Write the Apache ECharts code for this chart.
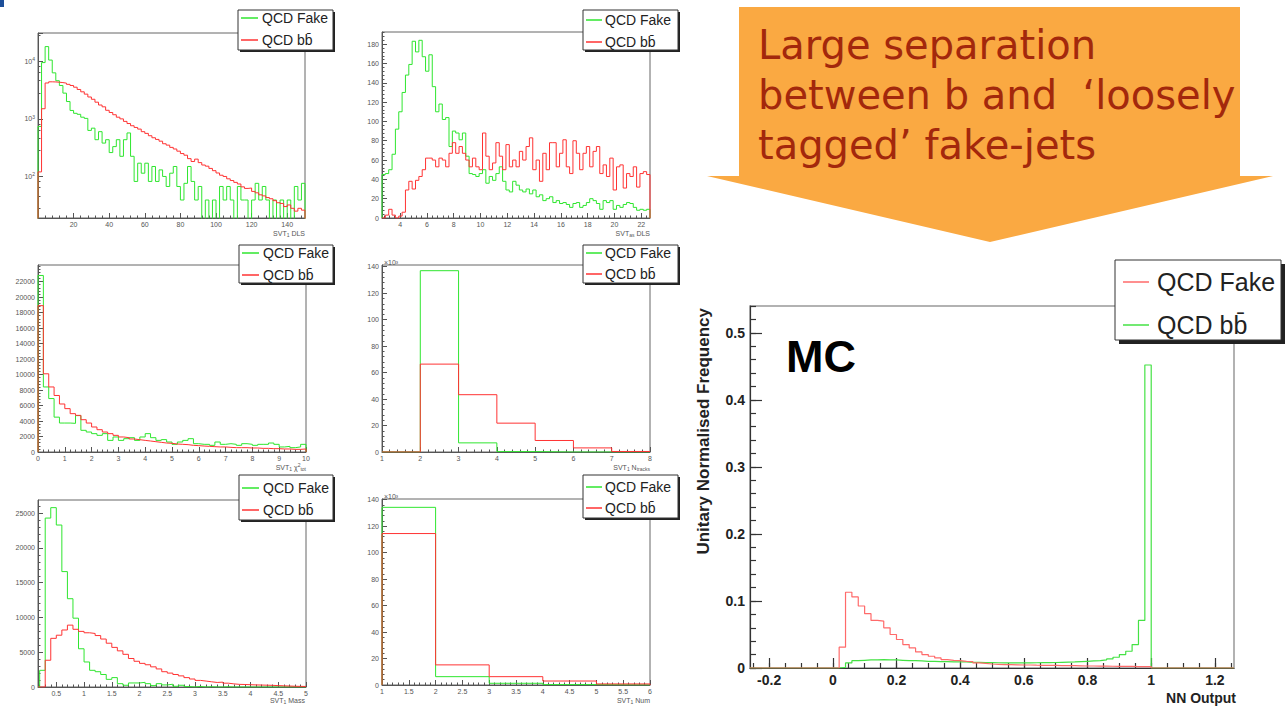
<!DOCTYPE html>
<html>
<head>
<meta charset="utf-8">
<script src="https://cdn.jsdelivr.net/npm/echarts@6/dist/echarts.min.js"></script>
<style>
  html, body { margin: 0; padding: 0; background: #fff; }
  #chart { width: 1285px; height: 707px; }
</style>
</head>
<body>
<div id="chart"></div>
<script>
// ---------- histogram contents ----------
// SVT1 decay-length significance, 2-unit bins from 0 to 150 (log scale)
const P1_BIN = { lo: 0, w: 2 };
const P1_FAKE = [740, 9500, 18000, 10500, 6300, 4600, 3800, 2800, 2000, 1400,
  1250, 1200, 1070, 1020, 630, 690, 435, 600, 380, 435,
  260, 330, 435, 224, 435, 570, 224, 82, 170, 114,
  170, 82, 149, 82, 130, 100, 67, 114, 149, 67,
  39, 76, 149, 82, 39, 67, 0, 39, 0, 39,
  0, 67, 39, 67, 39, 0, 67, 39, 39, 0,
  39, 76, 39, 67, 39, 0, 39, 0, 39, 0,
  39, 0, 67, 39, 76];
const P1_BB = [120, 1500, 4200, 4400, 4380, 4330, 4270, 4170, 3980, 3800,
  3550, 3240, 2950, 2690, 2400, 2190, 1950, 1740, 1620, 1410,
  1290, 1180, 1070, 1000, 905, 830, 760, 710, 665, 600,
  560, 510, 470, 440, 410, 370, 350, 320, 300, 275,
  250, 234, 204, 182, 200, 174, 158, 151, 138, 126,
  115, 105, 100, 91, 85, 79, 74, 66, 62, 63,
  55, 52, 48, 46, 43, 41, 38, 35, 34, 30,
  32, 28, 25, 28, 26];

// second SVT decay-length significance, 0.25 bins from 2.65
const P2_BIN = { lo: 2.65, w: 0.25 };
const P2_FAKE = [45, 46, 50, 66, 92, 110, 130, 148, 159, 183,
  172, 184, 167, 152, 169, 136, 110, 118, 102, 104,
  74, 90, 88, 81, 88, 64, 46, 45, 43, 46,
  50, 36, 43, 39, 46, 53, 38, 29, 27, 38,
  34, 29, 27, 30, 25, 29, 22, 24, 18, 20,
  22, 16, 18, 15, 16, 14, 11, 15, 16, 11,
  13, 16, 20, 18, 15, 9, 18, 16, 18, 9,
  13, 11, 14, 16, 15, 11, 8, 9, 8, 9];
const P2_BB = [0, 3, 9, 3, 0, 2, 6, 29, 38, 30,
  39, 43, 50, 62, 62, 60, 53, 62, 60, 53,
  67, 78, 67, 74, 67, 60, 53, 62, 53, 50,
  88, 64, 50, 57, 78, 64, 50, 76, 53, 60,
  53, 69, 60, 74, 83, 50, 60, 38, 67, 50,
  78, 78, 53, 67, 81, 53, 46, 80, 67, 50,
  67, 74, 53, 69, 74, 46, 55, 43, 62, 29,
  53, 55, 31, 46, 43, 53, 32, 46, 48, 45];

// SVT1 vertex chi2, 0.2 bins from 0 to 10
const P3_BIN = { lo: 0, w: 0.2 };
const P3_FAKE = [22800, 8400, 6900, 4500, 3740, 3740, 3700, 4700, 2800, 2580,
  2370, 2150, 2370, 1500, 1940, 1500, 1720, 1850, 1500, 1940,
  2370, 1850, 1500, 1600, 1290, 990, 1290, 1500, 1720, 1075,
  990, 990, 860, 1290, 990, 1075, 990, 860, 1075, 990,
  860, 990, 990, 1160, 990, 650, 730, 560, 650, 990];
const P3_BB = [18900, 10100, 8400, 7300, 6200, 5600, 4950, 4730, 4170, 3740,
  3230, 2880, 2580, 2370, 2150, 1940, 1850, 1680, 1590, 1500,
  1420, 1330, 1250, 1160, 1120, 1030, 990, 950, 860, 820,
  770, 730, 690, 650, 650, 600, 560, 560, 560, 520,
  520, 470, 470, 430, 430, 390, 390, 340, 340, 390];

// SVT1 track multiplicity, unit bins from 1 to 8 (x10^3 entries)
const P4_BIN = { lo: 1, w: 1 };
const P4_FAKE = [0, 137, 6.9, 0.3, 0, 0, 0];
const P4_BB = [0, 66.4, 43.3, 21.8, 8.7, 3.1, 0.4];

// SVT1 mass, 0.1 bins from 0.2 to 5
const P5_BIN = { lo: 0.2, w: 0.1 };
const P5_FAKE = [2400, 24300, 25800, 23300, 16600, 12700, 9900, 5500, 3600, 2400,
  2200, 1800, 1100, 1350, 480, 250, 580, 580, 670, 480,
  200, 480, 300, 400, 100, 250, 60, 0, 80, 0,
  40, 0, 0, 30, 0, 0, 0, 0, 0, 0,
  0, 0, 0, 0, 0, 0, 0, 0];
const P5_BB = [0, 3850, 7000, 7450, 8200, 8900, 8300, 8000, 7800, 7700,
  7400, 6900, 6300, 5700, 5200, 4700, 4100, 3700, 3400, 3200,
  2900, 2600, 2200, 2000, 1800, 1600, 1350, 1150, 950, 850,
  750, 650, 700, 550, 450, 380, 360, 330, 300, 280,
  260, 240, 200, 170, 140, 110, 90, 80];

// SVT1 number of vertices, unit bins from 1 to 6 (x10^3 entries)
const P6_BIN = { lo: 1, w: 1 };
const P6_FAKE = [134.2, 6.3, 1.3, 0.3, 0];
const P6_BB = [114.4, 15.2, 6.3, 3.0, 0.8];

// Neural-network output, unit-normalised, 0.02 bins from 0 to 1
const NN_BIN = { lo: 0, w: 0.02 };
const NN_FAKE = [0, 0.031, 0.113, 0.106, 0.0925, 0.081, 0.071, 0.070, 0.060, 0.050,
  0.0425, 0.035, 0.030, 0.024, 0.020, 0.0175, 0.015, 0.0125, 0.0115, 0.011,
  0.010, 0.0095, 0.0075, 0.007, 0.006, 0.0055, 0.005, 0.005, 0.0048, 0.0045,
  0.0045, 0.0042, 0.004, 0.004, 0.0038, 0.0036, 0.0035, 0.0034, 0.0032, 0.003,
  0.003, 0.0028, 0.0027, 0.0026, 0.0025, 0.0024, 0.0023, 0.0022, 0.0021, 0.002];
const NN_BB = [0, 0.001, 0.0075, 0.011, 0.0115, 0.012, 0.012, 0.0125, 0.012, 0.012,
  0.0115, 0.011, 0.011, 0.0105, 0.010, 0.010, 0.0095, 0.0095, 0.009, 0.009,
  0.009, 0.0085, 0.0085, 0.008, 0.008, 0.0078, 0.0075, 0.0075, 0.0075, 0.0075,
  0.0075, 0.0078, 0.008, 0.008, 0.0082, 0.0085, 0.0088, 0.009, 0.0095, 0.010,
  0.0105, 0.011, 0.012, 0.0135, 0.016, 0.020, 0.025, 0.035, 0.071, 0.452];

// ---------- axis ranges and tick labels ----------
const P1_X_RANGE = [0, 150], P1_Y_RANGE = [19, 31000];
const P1_X_TICKS = [20, 40, 60, 80, 100, 120, 140];
const P2_X_RANGE = [2.65, 22.65], P2_Y_RANGE = [0, 192.6];
const P2_X_TICKS = [4, 6, 8, 10, 12, 14, 16, 18, 20, 22];
const P2_Y_TICKS = [0, 20, 40, 60, 80, 100, 120, 140, 160, 180];
const P3_X_RANGE = [0, 10], P3_Y_RANGE = [0, 24150];
const P3_X_TICKS = [0, 1, 2, 3, 4, 5, 6, 7, 8, 9, 10];
const P3_Y_TICKS = [0, 2000, 4000, 6000, 8000, 10000, 12000, 14000, 16000, 18000, 20000, 22000];
const P4_X_RANGE = [1, 8], P4_Y_RANGE = [0, 141.3];
const P4_X_TICKS = [1, 2, 3, 4, 5, 6, 7, 8];
const P4_Y_TICKS = [0, 20, 40, 60, 80, 100, 120, 140];
const P5_X_RANGE = [0.17, 5], P5_Y_RANGE = [0, 26900];
const P5_X_TICKS = [0.5, 1, 1.5, 2, 2.5, 3, 3.5, 4, 4.5, 5];
const P5_Y_TICKS = [0, 5000, 10000, 15000, 20000, 25000];
const P6_X_RANGE = [1, 6], P6_Y_RANGE = [0, 140.5];
const P6_X_TICKS = [1, 1.5, 2, 2.5, 3, 3.5, 4, 4.5, 5, 5.5, 6];
const P6_Y_TICKS = [0, 20, 40, 60, 80, 100, 120, 140];
const NN_X_RANGE = [-0.26, 1.26], NN_Y_RANGE = [0, 0.54];
const NN_X_TICKS = [-0.2, 0, 0.2, 0.4, 0.6, 0.8, 1, 1.2];
const NN_Y_TICKS = [0, 0.1, 0.2, 0.3, 0.4, 0.5];

// ---------- text ----------
const LEGEND_FAKE = 'QCD Fake';
const LEGEND_BB = 'QCD b\u0062\u0304';
const AXIS_TITLES = ['SVT{sub|1} DLS', 'SVT{sub|as} DLS', 'SVT{sub|1} \u03c7{sup|2}{sub|tot}',
  'SVT{sub|1} N{sub|tracks}', 'SVT{sub|1} Mass', 'SVT{sub|1} Num'];
const NN_X_TITLE = 'NN Output';
const NN_Y_TITLE = 'Unitary Normalised Frequency';
const NN_TAG = 'MC';
const CALLOUT = ['Large separation', 'between b and  \u2018loosely', 'tagged\u2019 fake-jets'];

// ---------- helpers ----------
const FONT = "'Liberation Sans', Arial, Helvetica, sans-serif";
const GREEN = '#2fe62f';
const RED = '#ff3333';

const fmt = v => String(Math.round(v * 1e6) / 1e6);

function rangeStep(a, b, s) {
  const out = [];
  const n = Math.round((b - a) / s);
  for (let k = 0; k <= n; k++) out.push(Math.round((a + k * s) * 1e6) / 1e6);
  return out;
}

// outline of a filled-bin histogram, drawn along zero outside its bins
function histPoints(bin, vals, range, floor) {
  const pts = [[range[0], floor], [bin.lo, floor]];
  vals.forEach((v, i) => {
    const y = v > 0 ? v : floor;
    pts.push([bin.lo + i * bin.w, y], [bin.lo + (i + 1) * bin.w, y]);
  });
  pts.push([bin.lo + vals.length * bin.w, floor], [range[1], floor]);
  return pts;
}

function powerLabel(v) {
  const e = Math.log10(v);
  if (Math.abs(e - Math.round(e)) > 1e-6) return '';
  return '10{s|' + Math.round(e) + '}';
}

const SMALL = { fs: 7, fw: 'normal', label: '#555', axis: '#555', axisWidth: 1, frame: '#666', frameWidth: 1,
  margin: 3, xMajor: 5, xMinor: 2.5, yMajor: 5, yMinor: 2.5, lineWidth: 1 };
const BIG = { fs: 14, fw: 'bold', label: '#222', axis: '#333', axisWidth: 1.2, frame: '#999', frameWidth: 1.5,
  margin: 5, xMajor: 10, xMinor: 5, yMajor: 12, yMinor: 6, lineWidth: 1.2 };

const grids = [], xAxes = [], yAxes = [], series = [], graphics = [];

function valueAxes(dim, gi, range, major, minor, st) {
  const ls = { color: st.axis, width: st.axisWidth };
  const pos = dim === 'x' ? 'bottom' : 'left';
  return [{
    type: 'value', gridIndex: gi, position: pos, min: range[0], max: range[1],
    axisLine: { show: true, onZero: false, lineStyle: ls },
    axisTick: { show: true, inside: true, length: dim === 'x' ? st.xMajor : st.yMajor, customValues: major, lineStyle: ls },
    axisLabel: { show: true, customValues: major, margin: st.margin, fontSize: st.fs, fontFamily: FONT,
      fontWeight: st.fw, color: st.label, formatter: fmt },
    splitLine: { show: false }
  }, {
    // minor ticks share the frame edge with the labelled axis
    type: 'value', gridIndex: gi, position: pos, min: range[0], max: range[1],
    axisLine: { show: false, onZero: false }, axisLabel: { show: false }, splitLine: { show: false },
    axisTick: { show: true, inside: true, length: dim === 'x' ? st.xMinor : st.yMinor, customValues: minor, lineStyle: ls }
  }];
}

function addPanel(cfg) {
  const gi = grids.length;
  const st = cfg.style;
  grids.push({ left: cfg.rect[0], top: cfg.rect[1], width: cfg.rect[2], height: cfg.rect[3],
    show: true, borderColor: st.frame, borderWidth: st.frameWidth, backgroundColor: 'rgba(0,0,0,0)',
    containLabel: false, outerBoundsMode: 'none' });
  xAxes.push(...valueAxes('x', gi, cfg.xRange, cfg.xTicks, cfg.xMinor, st));
  if (cfg.log) {
    const ls = { color: st.axis, width: st.axisWidth };
    yAxes.push({
      type: 'log', logBase: 10, gridIndex: gi, position: 'left', min: cfg.yRange[0], max: cfg.yRange[1],
      axisLine: { show: true, onZero: false, lineStyle: ls },
      axisTick: { show: true, inside: true, length: st.yMajor, lineStyle: ls },
      minorTick: { show: true, splitNumber: 5, length: st.yMinor, lineStyle: ls },
      axisLabel: { show: true, margin: st.margin, fontSize: st.fs, fontFamily: FONT, color: st.label,
        lineHeight: 9, formatter: powerLabel,
        rich: { s: { fontSize: 5, fontFamily: FONT, color: st.label, verticalAlign: 'top', lineHeight: 9 } } },
      splitLine: { show: false }, minorSplitLine: { show: false }
    });
    yAxes.push({ type: 'value', gridIndex: gi, position: 'left', show: false, min: 0, max: 1,
      axisLine: { show: false, onZero: false } });
  } else {
    yAxes.push(...valueAxes('y', gi, cfg.yRange, cfg.yTicks, cfg.yMinor, st));
  }
  const floor = cfg.log ? 1 : 0;
  cfg.hists.forEach(h => series.push({
    type: 'line', name: h.name, xAxisIndex: 2 * gi, yAxisIndex: 2 * gi,
    data: histPoints(cfg.bin, h.data, cfg.xRange, floor),
    symbol: 'none', showSymbol: false, clip: true, silent: true, animation: false, z: 3,
    lineStyle: { color: h.color, width: st.lineWidth }, itemStyle: { color: h.color }
  }));
}

function addLegend(box, shadow, lineX, textX, rowY, fs, entries) {
  const [x, y, w, h] = box;
  graphics.push({ type: 'rect', z: 50, shape: { x: x + shadow, y: y + shadow, width: w, height: h }, style: { fill: '#222' } });
  graphics.push({ type: 'rect', z: 51, shape: { x, y, width: w, height: h }, style: { fill: '#fff', stroke: '#333', lineWidth: 1 } });
  entries.forEach((e, i) => {
    graphics.push({ type: 'line', z: 52, shape: { x1: lineX[0], y1: rowY[i], x2: lineX[1], y2: rowY[i] },
      style: { stroke: e.color, lineWidth: 1.5 } });
    graphics.push({ type: 'text', z: 52, x: textX, y: rowY[i],
      style: { text: e.label, fill: '#222', fontSize: fs, fontFamily: FONT, align: 'left', verticalAlign: 'middle' } });
  });
}

function addTitle(text, x, y) {
  graphics.push({ type: 'text', z: 20, x, y, style: {
    text, fill: '#555', fontSize: 7, fontFamily: FONT, align: 'right', verticalAlign: 'middle', lineHeight: 9,
    rich: { sub: { fontSize: 5, fontFamily: FONT, fill: '#555', verticalAlign: 'bottom', lineHeight: 9 },
            sup: { fontSize: 5, fontFamily: FONT, fill: '#555', verticalAlign: 'top', lineHeight: 9 } } } });
}

const smallPair = (fake, bb) => [
  { name: LEGEND_FAKE, data: fake, color: GREEN },
  { name: LEGEND_BB, data: bb, color: RED }
];

// ---------- six input-variable panels ----------
addPanel({ rect: [38, 33, 267, 185], style: SMALL, log: true, bin: P1_BIN,
  xRange: P1_X_RANGE, xTicks: P1_X_TICKS, xMinor: rangeStep(0, 148, 4), yRange: P1_Y_RANGE,
  hists: smallPair(P1_FAKE, P1_BB) });
addPanel({ rect: [382, 32, 268, 186], style: SMALL, bin: P2_BIN,
  xRange: P2_X_RANGE, xTicks: P2_X_TICKS, xMinor: rangeStep(2.8, 22.4, 0.4),
  yRange: P2_Y_RANGE, yTicks: P2_Y_TICKS, yMinor: rangeStep(0, 192, 4),
  hists: smallPair(P2_FAKE, P2_BB) });
addPanel({ rect: [38, 265, 268, 187], style: SMALL, bin: P3_BIN,
  xRange: P3_X_RANGE, xTicks: P3_X_TICKS, xMinor: rangeStep(0, 10, 0.2),
  yRange: P3_Y_RANGE, yTicks: P3_Y_TICKS, yMinor: rangeStep(0, 24000, 400),
  hists: smallPair(P3_FAKE, P3_BB) });
addPanel({ rect: [382, 265, 268, 187], style: SMALL, bin: P4_BIN,
  xRange: P4_X_RANGE, xTicks: P4_X_TICKS, xMinor: rangeStep(1, 8, 0.2),
  yRange: P4_Y_RANGE, yTicks: P4_Y_TICKS, yMinor: rangeStep(0, 140, 4),
  hists: smallPair(P4_FAKE, P4_BB) });
addPanel({ rect: [38, 500, 268, 187], style: SMALL, bin: P5_BIN,
  xRange: P5_X_RANGE, xTicks: P5_X_TICKS, xMinor: rangeStep(0.2, 5, 0.1),
  yRange: P5_Y_RANGE, yTicks: P5_Y_TICKS, yMinor: rangeStep(0, 26000, 1000),
  hists: smallPair(P5_FAKE, P5_BB) });
addPanel({ rect: [382, 499, 268, 186], style: SMALL, bin: P6_BIN,
  xRange: P6_X_RANGE, xTicks: P6_X_TICKS, xMinor: rangeStep(1, 6, 0.1),
  yRange: P6_Y_RANGE, yTicks: P6_Y_TICKS, yMinor: rangeStep(0, 140, 4),
  hists: smallPair(P6_FAKE, P6_BB) });

// ---------- network output ----------
addPanel({ rect: [750, 306, 484, 362], style: BIG, bin: NN_BIN,
  xRange: NN_X_RANGE, xTicks: NN_X_TICKS, xMinor: rangeStep(-0.25, 1.25, 0.05),
  yRange: NN_Y_RANGE, yTicks: NN_Y_TICKS, yMinor: rangeStep(0, 0.54, 0.02),
  hists: [{ name: LEGEND_BB, data: NN_BB, color: '#44e244' }, { name: LEGEND_FAKE, data: NN_FAKE, color: '#ff6a6a' }] });

// legends
const smallEntries = [{ label: LEGEND_FAKE, color: GREEN }, { label: LEGEND_BB, color: RED }];
addLegend([238, 10, 95, 40], 2, [241, 258], 262, [18, 40], 14, smallEntries);
addLegend([583, 10, 95, 40], 2, [586, 602], 605, [20, 42], 14, smallEntries);
addLegend([239, 245, 94, 38], 2, [242, 259], 263, [253, 275], 14, smallEntries);
addLegend([583, 245, 95, 38], 2, [586, 602], 605, [253, 274], 14, smallEntries);
addLegend([239, 475, 94, 45], 2, [242, 259], 263, [488, 510], 14, smallEntries);
addLegend([583, 475, 95, 43], 2, [586, 602], 605, [487, 508], 14, smallEntries);
addLegend([1115, 260, 166, 80], 4, [1123, 1149], 1157, [282, 325], 25,
  [{ label: LEGEND_FAKE, color: '#ff6a6a' }, { label: LEGEND_BB, color: '#44e244' }]);

// axis titles of the small panels
addTitle(AXIS_TITLES[0], 305, 233);
addTitle(AXIS_TITLES[1], 650, 233);
addTitle(AXIS_TITLES[2], 306, 467);
addTitle(AXIS_TITLES[3], 650, 467);
addTitle(AXIS_TITLES[4], 305, 700);
addTitle(AXIS_TITLES[5], 650, 700);

// x10^3 multipliers
[[384, 262], [384, 496]].forEach(p => graphics.push({ type: 'text', z: 20, x: p[0], y: p[1],
  style: { text: '\u00d710\u00b3', fill: '#555', fontSize: 7, fontFamily: FONT, align: 'left', verticalAlign: 'middle' } }));

// big-plot titles
graphics.push({ type: 'text', z: 20, x: 1236, y: 698, style: { text: NN_X_TITLE, fill: '#222', fontSize: 14,
  fontWeight: 'bold', fontFamily: FONT, align: 'right', verticalAlign: 'middle' } });
graphics.push({ type: 'text', z: 20, x: 703, y: 308, rotation: Math.PI / 2, style: { text: NN_Y_TITLE, fill: '#222',
  fontSize: 17, fontWeight: 'bold', fontFamily: FONT, align: 'right', verticalAlign: 'middle' } });
graphics.push({ type: 'text', z: 20, x: 821, y: 356, style: { text: NN_TAG, fill: '#000', fontSize: 45,
  fontWeight: 'bold', fontFamily: FONT, align: 'center', verticalAlign: 'middle' } });

// callout arrow
graphics.push({ type: 'polygon', z: 1, shape: { points: [[739, 7], [1240, 7], [1240, 176], [1273, 176],
  [990, 242], [707, 176], [739, 176]] }, style: { fill: '#faa942' } });
graphics.push({ type: 'text', z: 2, x: 758, y: 20, style: { text: CALLOUT.join('\n'), fill: '#a3280c',
  fontSize: 40, fontFamily: "'DejaVu Sans', Verdana, sans-serif", lineHeight: 50, align: 'left', verticalAlign: 'top' } });

// slide bullet fragment
graphics.push({ type: 'rect', z: 1, shape: { x: 0, y: 0, width: 4, height: 7 }, style: { fill: '#1d4f9a' } });

const chart = echarts.init(document.getElementById('chart'), null, { renderer: 'svg' });
chart.setOption({
  animation: false,
  backgroundColor: '#fff',
  grid: grids,
  xAxis: xAxes,
  yAxis: yAxes,
  series: series,
  graphic: { elements: graphics }
});
</script>
</body>
</html>
